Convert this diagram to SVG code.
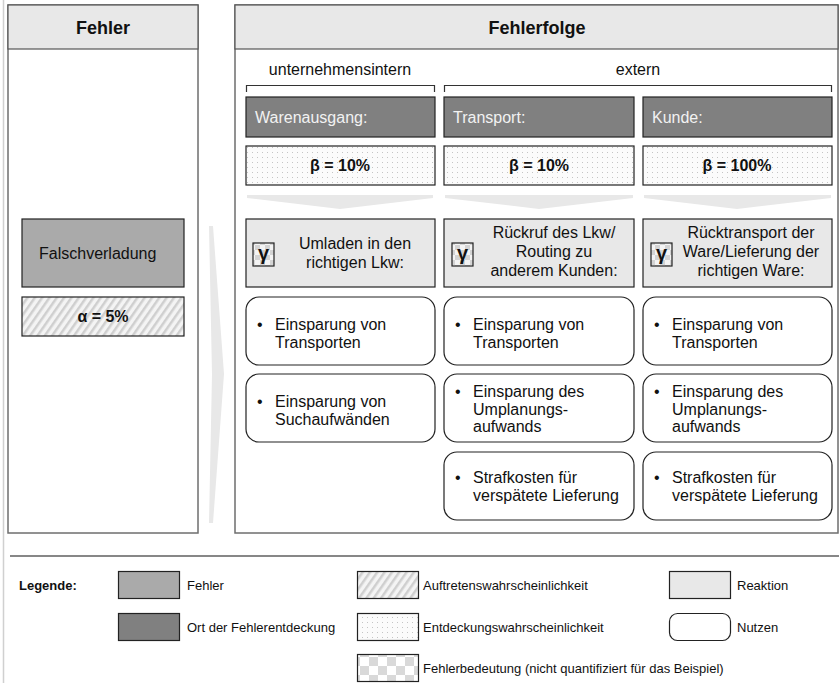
<svg xmlns="http://www.w3.org/2000/svg" width="839" height="683" viewBox="0 0 839 683">
<defs>
<pattern id="dots" width="5" height="5" patternUnits="userSpaceOnUse">
<rect width="5" height="5" fill="#fbfbfb"/>
<rect x="2" y="2" width="1" height="1" fill="#c4c4c4"/>
</pattern>
<pattern id="hatch" width="6" height="6" patternUnits="userSpaceOnUse" patternTransform="rotate(35)">
<rect width="6" height="6" fill="#f4f4f4"/>
<rect width="2.5" height="6" fill="#cfcfcf"/>
</pattern>
<pattern id="checker" width="18" height="18" patternUnits="userSpaceOnUse">
<rect width="18" height="18" fill="#ffffff"/>
<rect width="9" height="9" fill="#d9d9d9"/>
<rect x="9" y="9" width="9" height="9" fill="#d9d9d9"/>
</pattern>
<pattern id="checkS" width="10" height="10" patternUnits="userSpaceOnUse">
<rect width="10" height="10" fill="#f4f4f4"/>
<rect width="5" height="5" fill="#d4d4d4"/>
<rect x="5" y="5" width="5" height="5" fill="#d4d4d4"/>
</pattern>
</defs>
<style>
text{font-family:"Liberation Sans",Arial,sans-serif;fill:#111}
.panel{fill:#fff;stroke:#6e6e6e;stroke-width:1.5}
.head{fill:#e8e8e8;stroke:#555;stroke-width:1.2}
.title{font-size:18px;font-weight:bold;text-anchor:middle}
.b{font-size:16px}
.c{text-anchor:middle}
.bold{font-weight:bold}
.g{font-size:20px;font-weight:bold;text-anchor:middle}
.loc{fill:#808080;stroke:#222;stroke-width:1.2}
.loct{font-size:16px;fill:#f2f2f2}
.det{fill:url(#dots);stroke:#222;stroke-width:1.2}
.react{fill:#e8e8e8;stroke:#222;stroke-width:1.2}
.ben{fill:#fff;stroke:#222;stroke-width:1.2}
.err{fill:#aaaaaa;stroke:#222;stroke-width:1.2}
.occ{fill:url(#hatch);stroke:#222;stroke-width:1.2}
.sev{fill:url(#checker);stroke:#222;stroke-width:1.2}
.gam{fill:url(#checkS);stroke:#222;stroke-width:1.2}
.funnel{fill:#e8e8e8}
.lg{font-size:13px}
.brk{fill:none;stroke:#333;stroke-width:1.2}
</style>

<line x1="3.5" y1="0" x2="3.5" y2="683" stroke="#d0d0d0" stroke-width="1.5"/>

<g id="panel-fehler">
<rect class="panel" x="8" y="5" width="190" height="528"/>
<rect class="head" x="8" y="5" width="190" height="44"/>
<text class="title" x="103" y="34">Fehler</text>
</g>
<g id="panel-fehlerfolge">
<rect class="panel" x="235" y="5" width="603" height="528"/>
<rect class="head" x="235" y="5" width="603" height="44"/>
<text class="title" x="537" y="34">Fehlerfolge</text>
</g>

<g id="fehler-falschverladung">
<rect class="err" x="22" y="219" width="162" height="68"/>
<text class="b" x="39" y="259">Falschverladung</text>
</g>
<g id="fehler-alpha">
<rect class="occ" x="22" y="297" width="162" height="39"/>
<text class="b bold c" x="103" y="322">α = 5%</text>
</g>

<g id="connectors">
<polygon class="funnel" points="209,226 213,226 224,374 213,523 209,523 212,374"/>
<polygon class="funnel" points="247,195 433,195 433,198 340,209 247,198"/>
<polygon class="funnel" points="445,195 633,195 633,198 539,209 445,198"/>
<polygon class="funnel" points="644,195 831,195 831,198 737,209 644,198"/>
</g>

<g id="group-intern">
<text class="b c" x="340" y="75">unternehmensintern</text>
<path class="brk" d="M246.5,92 V85.5 H434.5 V92"/>
</g>
<g id="group-extern">
<text class="b c" x="638" y="75">extern</text>
<path class="brk" d="M444.5,92 V85.5 H831.5 V92"/>
</g>

<g id="ort-warenausgang">
<rect class="loc" x="246" y="97" width="189" height="40"/>
<text class="loct" x="255" y="123">Warenausgang:</text>
</g>
<g id="ort-transport">
<rect class="loc" x="444" y="97" width="190" height="40"/>
<text class="loct" x="453" y="123">Transport:</text>
</g>
<g id="ort-kunde">
<rect class="loc" x="643" y="97" width="189" height="40"/>
<text class="loct" x="652" y="123">Kunde:</text>
</g>

<g id="beta-warenausgang">
<rect class="det" x="246" y="146" width="189" height="39"/>
<text class="b bold c" x="340" y="171">β = 10%</text>
</g>
<g id="beta-transport">
<rect class="det" x="444" y="146" width="190" height="39"/>
<text class="b bold c" x="539" y="171">β = 10%</text>
</g>
<g id="beta-kunde">
<rect class="det" x="643" y="146" width="189" height="39"/>
<text class="b bold c" x="737" y="171">β = 100%</text>
</g>

<g id="reaktion-umladen">
<rect class="react" x="246" y="219" width="189" height="68"/>
<rect class="gam" x="253" y="243" width="21" height="23"/>
<text class="g" x="263.5" y="260">γ</text>
<text class="b c" x="355" y="249">Umladen in den</text>
<text class="b c" x="355" y="268">richtigen Lkw:</text>
</g>
<g id="reaktion-rueckruf">
<rect class="react" x="444" y="219" width="190" height="68"/>
<rect class="gam" x="452" y="243" width="21" height="23"/>
<text class="g" x="462.5" y="260">γ</text>
<text class="b c" x="554" y="238">Rückruf des Lkw/</text>
<text class="b c" x="554" y="257">Routing zu</text>
<text class="b c" x="554" y="276">anderem Kunden:</text>
</g>
<g id="reaktion-ruecktransport">
<rect class="react" x="643" y="219" width="189" height="68"/>
<rect class="gam" x="651" y="243" width="21" height="23"/>
<text class="g" x="661.5" y="260">γ</text>
<text class="b c" x="751" y="238">Rücktransport der</text>
<text class="b c" x="751" y="257">Ware/Lieferung der</text>
<text class="b c" x="751" y="276">richtigen Ware:</text>
</g>

<g id="nutzen-1-1">
<rect class="ben" x="246" y="297" width="189" height="68" rx="13"/>
<text class="b" x="257" y="330">•</text>
<text class="b" x="275" y="330">Einsparung von</text>
<text class="b" x="275" y="347.5">Transporten</text>
</g>
<g id="nutzen-1-2">
<rect class="ben" x="246" y="374" width="189" height="68" rx="13"/>
<text class="b" x="257" y="407">•</text>
<text class="b" x="275" y="407">Einsparung von</text>
<text class="b" x="275" y="424.5">Suchaufwänden</text>
</g>

<g id="nutzen-2-1">
<rect class="ben" x="444" y="297" width="190" height="68" rx="13"/>
<text class="b" x="455" y="330">•</text>
<text class="b" x="473" y="330">Einsparung von</text>
<text class="b" x="473" y="347.5">Transporten</text>
</g>
<g id="nutzen-2-2">
<rect class="ben" x="444" y="374" width="190" height="68" rx="13"/>
<text class="b" x="455" y="397">•</text>
<text class="b" x="473" y="397">Einsparung des</text>
<text class="b" x="473" y="414.5">Umplanungs-</text>
<text class="b" x="473" y="432">aufwands</text>
</g>
<g id="nutzen-2-3">
<rect class="ben" x="444" y="452" width="190" height="68" rx="13"/>
<text class="b" x="455" y="483">•</text>
<text class="b" x="473" y="483">Strafkosten für</text>
<text class="b" x="473" y="501">verspätete Lieferung</text>
</g>

<g id="nutzen-3-1">
<rect class="ben" x="643" y="297" width="189" height="68" rx="13"/>
<text class="b" x="654" y="330">•</text>
<text class="b" x="672" y="330">Einsparung von</text>
<text class="b" x="672" y="347.5">Transporten</text>
</g>
<g id="nutzen-3-2">
<rect class="ben" x="643" y="374" width="189" height="68" rx="13"/>
<text class="b" x="654" y="397">•</text>
<text class="b" x="672" y="397">Einsparung des</text>
<text class="b" x="672" y="414.5">Umplanungs-</text>
<text class="b" x="672" y="432">aufwands</text>
</g>
<g id="nutzen-3-3">
<rect class="ben" x="643" y="452" width="189" height="68" rx="13"/>
<text class="b" x="654" y="483">•</text>
<text class="b" x="672" y="483">Strafkosten für</text>
<text class="b" x="672" y="501">verspätete Lieferung</text>
</g>

<g id="legend">
<line x1="10" y1="556" x2="839" y2="556" stroke="#111" stroke-width="1.2"/>
<text class="lg bold" x="19" y="590">Legende:</text>
<rect class="err" x="118.5" y="571.5" width="61" height="27" fill="#a6a6a6"/>
<text class="lg" x="187" y="590">Fehler</text>
<rect class="loc" x="118.5" y="613.5" width="61" height="27"/>
<text class="lg" x="187" y="632">Ort der Fehlerentdeckung</text>
<rect class="occ" x="357.5" y="571.5" width="61" height="27"/>
<text class="lg" x="423" y="590">Auftretenswahrscheinlichkeit</text>
<rect class="det" x="357.5" y="613.5" width="61" height="27"/>
<text class="lg" x="423" y="632">Entdeckungswahrscheinlichkeit</text>
<rect class="sev" x="357.5" y="654.5" width="61" height="27"/>
<text class="lg" x="423" y="673">Fehlerbedeutung (nicht quantifiziert für das Beispiel)</text>
<rect class="react" x="669.5" y="571.5" width="61" height="27"/>
<text class="lg" x="737" y="590">Reaktion</text>
<rect class="ben" x="669.5" y="613.5" width="61" height="27" rx="8"/>
<text class="lg" x="737" y="632">Nutzen</text>
</g>
</svg>
